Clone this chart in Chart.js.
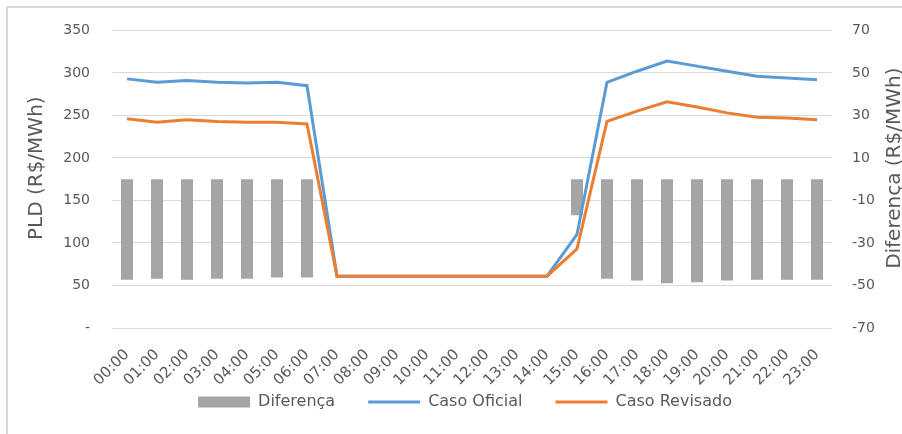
<!DOCTYPE html>
<html>
<head>
<meta charset="utf-8">
<script src="https://cdn.jsdelivr.net/npm/chart.js@4.4.1/dist/chart.umd.min.js"></script>
<style>
  html, body { margin: 0; padding: 0; background: #fff; overflow: hidden; }
  #frame { position: fixed; left: 6px; top: 6px; right: -20px; bottom: -20px;
           border-left: 2px solid #d9d9d9; border-top: 2px solid #d9d9d9; }
  #chart { position: absolute; left: 0; top: 0; }
</style>
</head>
<body>
<div id="frame"></div>
<canvas id="chart" width="902" height="434"></canvas>
<script>
// Data
const hours = ['00:00', '01:00', '02:00', '03:00', '04:00', '05:00', '06:00', '07:00',
    '08:00', '09:00', '10:00', '11:00', '12:00', '13:00', '14:00', '15:00',
    '16:00', '17:00', '18:00', '19:00', '20:00', '21:00', '22:00', '23:00'];
const casoOficial = [293, 289, 291, 289, 288, 289, 285, 61, 61, 61, 61, 61, 61, 61, 61,
    110, 289, 302, 314, 308, 302, 296, 294, 292];
const casoRevisado = [246, 242, 245, 243, 242, 242, 240, 61, 61, 61, 61, 61, 61, 61, 61,
    93, 243, 255, 266, 260, 253, 248, 247, 245];
const diferenca = [-47.3, -46.8, -47.3, -46.8, -46.8, -46.2, -46.2, 0, 0, 0, 0, 0, 0, 0, 0,
    -17, -46.8, -47.7, -49, -48.5, -47.7, -47.3, -47.3, -47.3];

const leftTitle = 'PLD (R$/MWh)';
const rightTitle = 'Diferença (R$/MWh)';

const textColor = '#595959';
const fontFamily = '"DejaVu Sans", sans-serif';

// both axis titles read bottom-to-top and sit a bit above the plot centre
const axisTitlesPlugin = {
    id: 'axisTitles',
    afterDraw(chart) {
        const ctx = chart.ctx;
        const midY = chart.chartArea.top + (chart.chartArea.bottom - chart.chartArea.top) / 2 - 11;
        [[leftTitle, 37], [rightTitle, chart.width - 7]].forEach(([text, x]) => {
            ctx.save();
            ctx.translate(x, midY);
            ctx.rotate(-Math.PI / 2);
            ctx.font = '20px ' + fontFamily;
            ctx.fillStyle = textColor;
            ctx.textAlign = 'center';
            ctx.textBaseline = 'middle';
            ctx.fillText(text, 0, 0);
            ctx.restore();
        });
    }
};

new Chart(document.getElementById('chart'), {
    type: 'bar',
    data: {
        labels: hours,
        datasets: [{
            type: 'bar',
            label: 'Diferença',
            data: diferenca,
            yAxisID: 'y2',
            backgroundColor: '#a5a5a5',
            barPercentage: 0.4,
            categoryPercentage: 1,
            order: 3
        }, {
            type: 'line',
            label: 'Caso Oficial',
            data: casoOficial,
            yAxisID: 'y',
            borderColor: '#5b9bd5',
            backgroundColor: '#5b9bd5',
            borderWidth: 3,
            pointRadius: 0,
            pointStyle: 'line',
            tension: 0,
            order: 2
        }, {
            type: 'line',
            label: 'Caso Revisado',
            data: casoRevisado,
            yAxisID: 'y',
            borderColor: '#ed7d31',
            backgroundColor: '#ed7d31',
            borderWidth: 3,
            pointRadius: 0,
            pointStyle: 'line',
            tension: 0,
            order: 1
        }]
    },
    options: {
        responsive: false,
        animation: false,
        layout: { padding: { left: 28, right: 0, top: 30, bottom: 14 } },
        plugins: {
            tooltip: { enabled: false },
            legend: {
                position: 'bottom',
                labels: {
                    color: textColor,
                    font: { family: fontFamily, size: 16 },
                    usePointStyle: true,
                    pointStyleWidth: 52,
                    boxHeight: 11,
                    padding: 33,
                    sort: (a, b) => a.datasetIndex - b.datasetIndex,
                    generateLabels(chart) {
                        const items = Chart.defaults.plugins.legend.labels.generateLabels(chart);
                        items.forEach(item => {
                            if (item.datasetIndex === 0) item.pointStyle = 'rect';
                        });
                        return items;
                    }
                }
            }
        },
        scales: {
            x: {
                grid: { display: false },
                border: { display: false },
                ticks: {
                    color: textColor,
                    font: { family: fontFamily, size: 15 },
                    maxRotation: 45,
                    minRotation: 45,
                    padding: 10
                },
                afterFit(scale) {
                    // short axis box so the legend sits close, labels may hang below it
                    scale.height = 33;
                    scale._computeLabelArea = () => undefined;
                }
            },
            y: {
                position: 'left',
                min: 0,
                max: 350,
                grid: { color: '#d9d9d9', lineWidth: 1, drawTicks: false },
                border: { display: false },
                ticks: {
                    stepSize: 50,
                    color: textColor,
                    font: { family: fontFamily, size: 14 },
                    padding: 22,
                    callback: v => v === 0 ? '-' : v
                },
                afterFit(scale) { scale.width = 84; }
            },
            y2: {
                position: 'right',
                min: -70,
                max: 70,
                grid: { display: false, drawTicks: false },
                border: { display: false },
                ticks: {
                    stepSize: 20,
                    color: textColor,
                    font: { family: fontFamily, size: 14 },
                    padding: 20
                },
                afterFit(scale) { scale.width = 70; }
            }
        }
    },
    plugins: [axisTitlesPlugin]
});
</script>
</body>
</html>
